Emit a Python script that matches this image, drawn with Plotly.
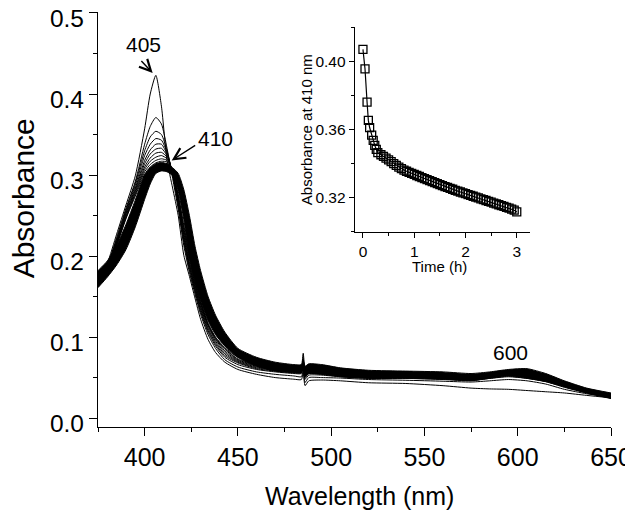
import plotly.graph_objects as go

# ---------------- data ----------------
wavelength_nm = [375, 380, 385, 390, 395, 400, 403, 406, 409, 412, 415, 418, 421, 424, 427,
                 430, 434, 438, 443, 450, 460, 470, 480, 484, 485, 486, 488, 495, 505, 520,
                 540, 560, 575, 585, 595, 605, 615, 625, 637, 650]

# early, well separated spectra (first scan on top)
spec_0 = [0.168, 0.191, 0.227, 0.263, 0.299, 0.357, 0.400, 0.423, 0.385, 0.318, 0.284, 0.250, 0.201, 0.175, 0.148,
          0.122, 0.097, 0.081, 0.069, 0.060, 0.054, 0.050, 0.048, 0.0475, 0.056, 0.040, 0.046, 0.047, 0.046, 0.0436,
          0.0427, 0.040, 0.037, 0.036, 0.0355, 0.034, 0.0325, 0.031, 0.028, 0.025]
spec_1 = [0.167, 0.188, 0.223, 0.259, 0.292, 0.338, 0.360, 0.371, 0.363, 0.333, 0.296, 0.258, 0.213, 0.180, 0.153,
          0.128, 0.103, 0.086, 0.072, 0.063, 0.057, 0.054, 0.052, 0.051, 0.060, 0.044, 0.050, 0.050, 0.0494, 0.0476,
          0.0467, 0.0455, 0.0445, 0.046, 0.0476, 0.046, 0.042, 0.0355, 0.030, 0.0255]
spec_2 = [0.166, 0.187, 0.221, 0.257, 0.290, 0.330, 0.347, 0.354, 0.350, 0.330, 0.300, 0.262, 0.217, 0.183, 0.156,
          0.131, 0.106, 0.089, 0.075, 0.066, 0.060, 0.057, 0.055, 0.055, 0.064, 0.048, 0.053, 0.053, 0.051, 0.049,
          0.049, 0.048, 0.0465, 0.049, 0.051, 0.049, 0.045, 0.038, 0.031, 0.025]
spec_3 = [0.166, 0.186, 0.219, 0.255, 0.287, 0.324, 0.338, 0.345, 0.343, 0.328, 0.301, 0.264, 0.220, 0.186, 0.158,
          0.133, 0.108, 0.091, 0.077, 0.068, 0.061, 0.058, 0.056, 0.056, 0.066, 0.050, 0.055, 0.054, 0.052, 0.050,
          0.050, 0.049, 0.047, 0.050, 0.053, 0.051, 0.047, 0.039, 0.032, 0.0255]
spec_4 = [0.166, 0.186, 0.218, 0.253, 0.284, 0.318, 0.331, 0.338, 0.338, 0.326, 0.302, 0.266, 0.223, 0.188, 0.160,
          0.135, 0.110, 0.093, 0.079, 0.069, 0.062, 0.059, 0.057, 0.057, 0.067, 0.051, 0.056, 0.055, 0.053, 0.051,
          0.051, 0.050, 0.048, 0.051, 0.054, 0.052, 0.048, 0.040, 0.032, 0.026]
spec_5 = [0.167, 0.186, 0.217, 0.252, 0.282, 0.314, 0.326, 0.332, 0.333, 0.324, 0.303, 0.268, 0.226, 0.190, 0.162,
          0.137, 0.112, 0.095, 0.081, 0.070, 0.063, 0.060, 0.058, 0.058, 0.068, 0.052, 0.057, 0.056, 0.054, 0.052,
          0.052, 0.051, 0.049, 0.052, 0.055, 0.053, 0.049, 0.041, 0.033, 0.026]
spec_6 = [0.167, 0.186, 0.216, 0.250, 0.280, 0.310, 0.321, 0.327, 0.328, 0.322, 0.303, 0.270, 0.229, 0.193, 0.164,
          0.139, 0.114, 0.097, 0.083, 0.071, 0.064, 0.061, 0.059, 0.059, 0.069, 0.053, 0.058, 0.057, 0.055, 0.053,
          0.053, 0.052, 0.050, 0.053, 0.056, 0.054, 0.050, 0.042, 0.034, 0.027]
spec_7 = [0.167, 0.185, 0.215, 0.248, 0.278, 0.307, 0.317, 0.322, 0.324, 0.320, 0.303, 0.272, 0.232, 0.196, 0.166,
          0.141, 0.115, 0.098, 0.085, 0.072, 0.065, 0.062, 0.060, 0.060, 0.070, 0.054, 0.059, 0.058, 0.056, 0.054,
          0.054, 0.053, 0.051, 0.054, 0.057, 0.055, 0.051, 0.043, 0.034, 0.027]
spec_8 = [0.167, 0.185, 0.214, 0.247, 0.276, 0.304, 0.313, 0.318, 0.320, 0.318, 0.303, 0.274, 0.235, 0.199, 0.168,
          0.142, 0.116, 0.099, 0.086, 0.073, 0.066, 0.063, 0.061, 0.061, 0.071, 0.055, 0.060, 0.059, 0.057, 0.055,
          0.055, 0.054, 0.052, 0.055, 0.058, 0.056, 0.052, 0.044, 0.035, 0.028]
spec_9 = [0.167, 0.185, 0.213, 0.246, 0.274, 0.301, 0.310, 0.315, 0.317, 0.316, 0.303, 0.276, 0.238, 0.202, 0.171,
          0.144, 0.117, 0.100, 0.087, 0.075, 0.067, 0.064, 0.062, 0.062, 0.072, 0.056, 0.061, 0.060, 0.058, 0.056,
          0.056, 0.055, 0.053, 0.056, 0.059, 0.057, 0.053, 0.045, 0.036, 0.028]
early_spectra = [spec_0, spec_1, spec_2, spec_3, spec_4, spec_5, spec_6, spec_7, spec_8, spec_9]

# later scans overlap into a dense band: lower and upper envelope
band_low = [0.161, 0.174, 0.189, 0.208, 0.236, 0.270, 0.289, 0.302, 0.305, 0.304, 0.299, 0.280, 0.245, 0.200, 0.170,
            0.145, 0.120, 0.103, 0.089, 0.075, 0.064, 0.058, 0.056, 0.056, 0.070, 0.052, 0.055, 0.054, 0.051, 0.049,
            0.049, 0.0476, 0.046, 0.049, 0.0517, 0.049, 0.045, 0.0385, 0.031, 0.024]
band_high = [0.182, 0.194, 0.213, 0.239, 0.269, 0.300, 0.309, 0.314, 0.3155, 0.314, 0.309, 0.302, 0.282, 0.250, 0.212,
             0.182, 0.150, 0.127, 0.106, 0.086, 0.075, 0.069, 0.066, 0.066, 0.080, 0.064, 0.067, 0.066, 0.062, 0.059,
             0.058, 0.057, 0.055, 0.057, 0.060, 0.061, 0.055, 0.046, 0.037, 0.031]

# inset: absorbance at 410 nm vs time
time_h = [0.00, 0.04, 0.08, 0.105, 0.13, 0.17, 0.20, 0.23, 0.26, 0.29,
          0.35, 0.40, 0.45, 0.50, 0.55, 0.60, 0.65, 0.70, 0.75, 0.80,
          0.85, 0.90, 0.95, 1.00, 1.05, 1.10, 1.15, 1.20, 1.25, 1.30,
          1.35, 1.40, 1.45, 1.50, 1.55, 1.60, 1.65, 1.70, 1.75, 1.80,
          1.85, 1.90, 1.95, 2.00, 2.05, 2.10, 2.15, 2.20, 2.25, 2.30,
          2.35, 2.40, 2.45, 2.50, 2.55, 2.60, 2.65, 2.70, 2.75, 2.80,
          2.85, 2.90, 2.95, 3.00]
abs_410 = [0.4070, 0.3955, 0.3760, 0.3652, 0.3610, 0.3565, 0.3535, 0.3505, 0.3482, 0.3462,
           0.3450, 0.3440, 0.3430, 0.3420, 0.3410, 0.3398, 0.3387, 0.3377, 0.3368, 0.3360,
           0.3353, 0.3346, 0.3340, 0.3334, 0.3328, 0.3322, 0.3316, 0.3310, 0.3304, 0.3298,
           0.3292, 0.3286, 0.3280, 0.3274, 0.3268, 0.3263, 0.3258, 0.3252, 0.3247, 0.3241,
           0.3236, 0.3231, 0.3226, 0.3221, 0.3216, 0.3211, 0.3206, 0.3201, 0.3196, 0.3191,
           0.3186, 0.3181, 0.3176, 0.3171, 0.3166, 0.3161, 0.3156, 0.3151, 0.3146, 0.3141,
           0.3136, 0.3130, 0.3124, 0.3114]

main_xticks = [400, 450, 500, 550, 600, 650]
main_yticks = [0.0, 0.1, 0.2, 0.3, 0.4, 0.5]

# ---------------- figure ----------------
FONT = "Liberation Sans, Arial, sans-serif"
fig = go.Figure()

fig.add_trace(go.Scatter(x=wavelength_nm, y=band_low, mode="lines",
                         line=dict(color="black", width=1, shape="spline", smoothing=0.6),
                         showlegend=False, hoverinfo="skip"))
fig.add_trace(go.Scatter(x=wavelength_nm, y=band_high, mode="lines", fill="tonexty",
                         fillcolor="black",
                         line=dict(color="black", width=1, shape="spline", smoothing=0.6),
                         showlegend=False, hoverinfo="skip"))
for s in early_spectra:
    fig.add_trace(go.Scatter(x=wavelength_nm, y=s, mode="lines",
                             line=dict(color="black", width=1, shape="spline", smoothing=0.6),
                             showlegend=False, hoverinfo="skip"))

fig.add_trace(go.Scatter(x=time_h, y=abs_410, mode="lines+markers", xaxis="x2", yaxis="y2",
                         line=dict(color="black", width=1.2),
                         marker=dict(symbol="square-open", size=8, color="black",
                                     line=dict(color="black", width=1.3)),
                         showlegend=False, hoverinfo="skip"))

axis_common = dict(showline=True, linecolor="black", linewidth=1.3, ticks="outside",
                   tickcolor="black", tickwidth=1.3, showgrid=False, zeroline=False, mirror=False,
                   ticklabeloverflow="allow", automargin=False)
inset_common = {**axis_common, "linewidth": 1.2, "tickwidth": 1.2}

# the page body adds an 8 px offset, so the figure is sized to fit the window after it
fig.update_layout(
    width=625, height=502,
    margin=dict(l=90, r=21.5, t=3.5, b=83, autoexpand=False),
    paper_bgcolor="white", plot_bgcolor="white",
    font=dict(family=FONT, color="black"),
    xaxis=dict(range=[375, 650], tickvals=main_xticks, ticklen=8,
               tickfont=dict(size=25, family=FONT),
               minor=dict(dtick=25, tick0=375, ticklen=4, tickwidth=1.3, tickcolor="black",
                          ticks="outside", showgrid=False),
               **axis_common),
    yaxis=dict(range=[-0.011, 0.5012], tickvals=main_yticks, tickformat=".1f", ticklen=8,
               tickfont=dict(size=24.5, family=FONT), ticklabelshift=5,
               minor=dict(dtick=0.05, tick0=0, ticklen=4, tickwidth=1.3, tickcolor="black",
                          ticks="outside", showgrid=False),
               **axis_common),
    xaxis2=dict(domain=[0.5005, 0.8413], anchor="y2", range=[-0.16, 3.25], dtick=1, tick0=0,
                ticklen=5, tickfont=dict(size=15.5, family=FONT),
                minor=dict(dtick=0.5, tick0=0, ticklen=3, tickwidth=1.2, tickcolor="black",
                           ticks="outside", showgrid=False),
                **inset_common),
    yaxis2=dict(domain=[0.470, 0.965], anchor="x2", range=[0.2996, 0.4204], dtick=0.04, tick0=0.32,
                tickformat=".2f", ticklen=5, tickfont=dict(size=15.5, family=FONT),
                minor=dict(dtick=0.02, tick0=0.30, ticklen=3, tickwidth=1.2, tickcolor="black",
                           ticks="outside", showgrid=False),
                **inset_common),
)

ann = []
# axis titles
ann.append(dict(text="Wavelength (nm)", xref="paper", yref="paper", x=0.510, y=-0.166,
                xanchor="center", yanchor="middle", showarrow=False, font=dict(size=25, family=FONT)))
ann.append(dict(text="Absorbance", xref="paper", yref="paper", x=-0.1461, y=0.5511, textangle=-90,
                xanchor="center", yanchor="middle", showarrow=False, font=dict(size=30, family=FONT)))
ann.append(dict(text="Absorbance at 410 nm", xref="paper", yref="paper", x=0.4070, y=0.7172, textangle=-90,
                xanchor="center", yanchor="middle", showarrow=False, font=dict(size=15, family=FONT)))
ann.append(dict(text="Time (h)", xref="paper", yref="paper", x=0.666, y=0.3875,
                xanchor="center", yanchor="middle", showarrow=False, font=dict(size=15, family=FONT)))
# peak labels
ann.append(dict(text="405", x=399.6, y=0.4605, xref="x", yref="y", showarrow=False,
                xanchor="center", yanchor="middle", font=dict(size=21, family=FONT)))
ann.append(dict(text="410", x=438.2, y=0.345, xref="x", yref="y", showarrow=False,
                xanchor="center", yanchor="middle", font=dict(size=21, family=FONT)))
ann.append(dict(text="600", x=596.2, y=0.081, xref="x", yref="y", showarrow=False,
                xanchor="center", yanchor="middle", font=dict(size=21, family=FONT)))
# arrows
ann.append(dict(text="", x=404.3, y=0.426, xref="x", yref="y", ax=-12.7, ay=-13.4,
                showarrow=True, arrowhead=5, arrowsize=1.6, arrowwidth=1.4, arrowcolor="black", standoff=0))
ann.append(dict(text="", x=414.5, y=0.318, xref="x", yref="y", ax=25, ay=-16,
                showarrow=True, arrowhead=5, arrowsize=1.6, arrowwidth=1.4, arrowcolor="black", standoff=0))
fig.update_layout(annotations=ann)

fig.write_html("out.html")
